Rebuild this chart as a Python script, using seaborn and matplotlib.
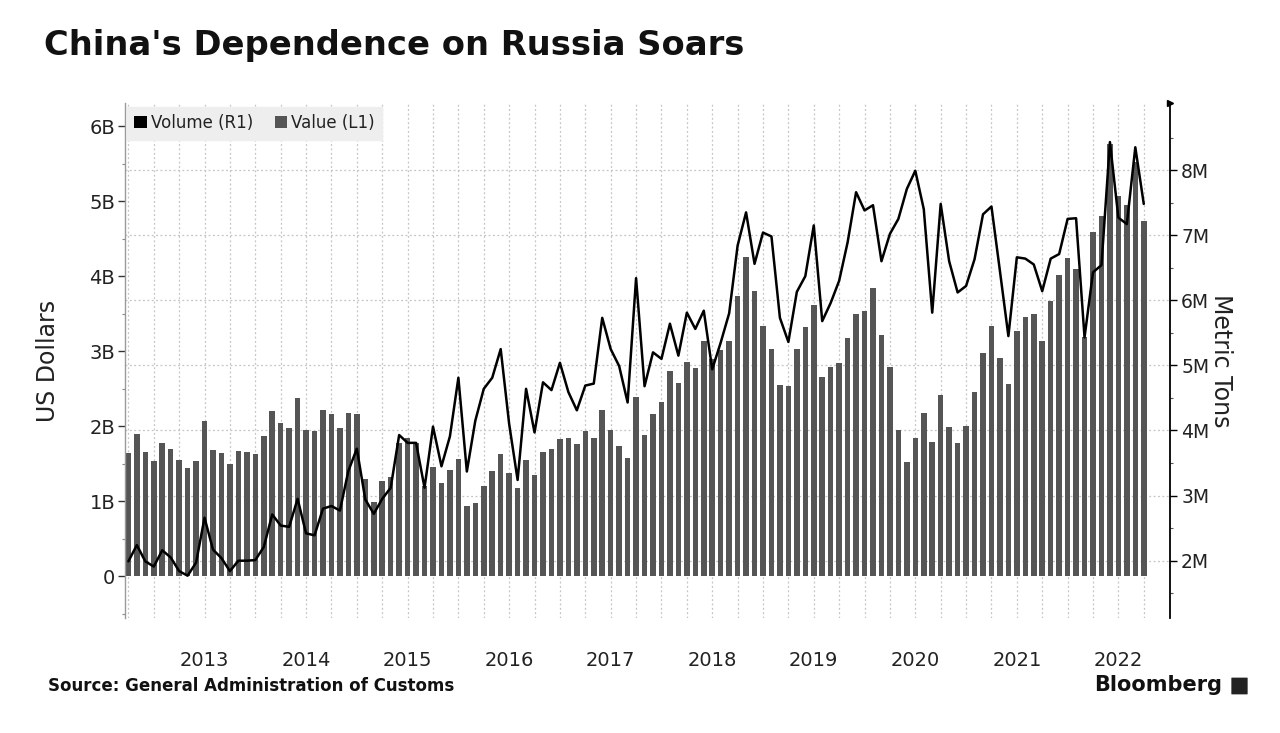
import numpy as np
import pandas as pd
import matplotlib
matplotlib.use("Agg")
import matplotlib.pyplot as plt
import seaborn as sns
from matplotlib.patches import Patch, FancyBboxPatch

# ---- data (monthly, Apr 2012 .. Apr 2022) ----
start_month = "2012-04-01"
value_bn = [
    1.64, 1.90, 1.66, 1.54, 1.77, 1.70, 1.55, 1.44, 1.53, 2.07, 1.68, 1.64, 1.50, 1.67, 1.65,
    1.63, 1.87, 2.20, 2.04, 1.98, 2.37, 1.95, 1.93, 2.21, 2.16, 1.98, 2.18, 2.16, 1.30, 0.99,
    1.27,
    1.32, 1.77, 1.84, 1.78, 1.20, 1.46, 1.24, 1.41, 1.56, 0.94, 0.98, 1.20, 1.40, 1.63, 1.38,
    1.17, 1.55, 1.35, 1.66, 1.69, 1.83, 1.84, 1.76, 1.94, 1.84, 2.21, 1.95, 1.74, 1.57, 2.39,
    1.88, 2.16, 2.32, 2.74, 2.57, 2.86, 2.78, 3.14, 2.90, 3.02, 3.13, 3.74, 4.25, 3.80, 3.34,
    3.03, 2.55, 2.53, 3.03, 3.32, 3.61, 2.66, 2.79, 2.84, 3.18, 3.50, 3.54, 3.84, 3.22, 2.79,
    1.95, 1.52, 1.84, 2.17, 1.79, 2.41, 1.99, 1.78, 2.00, 2.45, 2.98, 3.34, 2.91, 2.56, 3.27, 3.46,
    3.49, 3.14, 3.67, 4.01, 4.24, 4.09, 3.19, 4.59, 4.80, 5.76, 5.07, 4.95, 5.52, 4.74,
]
volume_mt = [
    1.99, 2.24, 1.99, 1.91, 2.16, 2.05, 1.84, 1.77, 1.97, 2.66, 2.17, 2.04, 1.84, 2.00, 2.00,
    2.01, 2.21, 2.71, 2.54, 2.52, 2.95, 2.42, 2.39, 2.80, 2.84, 2.77, 3.38, 3.72, 2.94, 2.72, 2.95,
    3.12, 3.93, 3.81, 3.81, 3.12, 4.06, 3.45, 3.91, 4.81, 3.37, 4.15, 4.64, 4.81, 5.25, 4.10,
    3.24, 4.64, 3.97, 4.74, 4.62, 5.04, 4.59, 4.31, 4.69, 4.72, 5.73, 5.25, 4.99, 4.43, 6.34,
    4.68, 5.20, 5.10, 5.64, 5.15, 5.81, 5.56, 5.84, 4.94, 5.35, 5.80, 6.84, 7.35, 6.56, 7.04,
    6.98, 5.73, 5.36, 6.13, 6.37, 7.15, 5.68, 5.96, 6.30, 6.89, 7.66, 7.38, 7.46, 6.60, 7.02,
    7.25, 7.71, 7.99, 7.40, 5.81, 7.48, 6.60, 6.12, 6.22, 6.63, 7.32, 7.44, 6.45, 5.45, 6.66, 6.64,
    6.55, 6.14, 6.64, 6.71, 7.25, 7.26, 5.43, 6.43, 6.54, 8.43, 7.27, 7.17, 8.35, 7.48,
]
left_ticks = [0, 1, 2, 3, 4, 5, 6]
left_labels = ["0", "1B", "2B", "3B", "4B", "5B", "6B"]
right_ticks = [2, 3, 4, 5, 6, 7, 8]
right_labels = ["2M", "3M", "4M", "5M", "6M", "7M", "8M"]
legend_labels = ["Volume (R1)", "Value (L1)"]

n = len(value_bn)
months = pd.date_range(start_month, periods=n, freq="MS")
pos = np.arange(n)
df = pd.DataFrame({"pos": pos, "value": value_bn, "volume": volume_mt})
jan_pos = pos[months.month == 1]
jan_labels = [str(y) for y in months.year[months.month == 1]]

sns.set_theme(style="white")
plt.rcParams["font.family"] = ["DejaVu Sans"]

BAR = "#555555"
TXT = "#222222"
fig = plt.figure(figsize=(12.8, 7.33), dpi=100)
fig.patch.set_facecolor("white")

W, H = 1280, 733
rect = [125 / W, 1 - 618 / H, 1045 / W, 515 / H]
XLIM = (-0.4, 123.1)
LYLIM = (-0.56, 6.31)
RYLIM = (1.12, 9.03)

# background grid axis (right-axis scale)
ax_bg = fig.add_axes(rect, zorder=0)
ax_bg.set_xlim(*XLIM)
ax_bg.set_ylim(*RYLIM)
ax_bg.set_yticks(right_ticks)
ax_bg.set_xticks(pos[::3])
ax_bg.grid(True, ls=(0, (1.5, 2.0)), color="#c4c4c4", lw=0.9)
ax_bg.tick_params(length=0, labelleft=False, labelbottom=False)
for s in ax_bg.spines.values():
    s.set_visible(False)
ax_bg.set_facecolor("white")

# bars (left axis)
ax = fig.add_axes(rect, zorder=1)
ax.patch.set_visible(False)
sns.barplot(data=df, x="pos", y="value", native_scale=True, color=BAR,
            saturation=1, width=0.65, linewidth=0, ax=ax)
ax.set_xlim(*XLIM)
ax.set_ylim(*LYLIM)

# line (right axis)
ax2 = ax.twinx()
ax2.set_zorder(2)
ax2.patch.set_visible(False)
sns.lineplot(data=df, x="pos", y="volume", color="black", lw=1.8, ax=ax2)
ax2.set_ylim(*RYLIM)
ax.set_xlim(*XLIM)

# spines
for k in ["top", "right", "bottom"]:
    ax.spines[k].set_visible(False)
ax.spines["left"].set_color("#9a9a9a")
ax.spines["left"].set_linewidth(1.0)
for k in ["top", "left", "bottom"]:
    ax2.spines[k].set_visible(False)
ax2.spines["right"].set_color("black")
ax2.spines["right"].set_linewidth(1.3)
ax2.plot([1], [1], marker=">", ms=5, color="black", transform=ax2.transAxes, clip_on=False)

# ticks
ax.set_yticks(left_ticks, labels=left_labels)
ax.set_yticks(np.arange(-0.5, 6.01, 0.5), minor=True)
ax.tick_params(axis="y", which="major", direction="out", length=5, width=1, color="#333333",
               labelsize=14, labelcolor=TXT, pad=2, left=True)
ax.tick_params(axis="y", which="minor", direction="out", length=2.5, width=0.8, color="#888888", left=True)

ax2.set_yticks(right_ticks, labels=right_labels)
ax2.set_yticks(np.arange(1.5, 9.0, 0.5), minor=True)
ax2.tick_params(axis="y", which="major", direction="out", length=5, width=1, color="black",
                labelsize=13.5, labelcolor=TXT, pad=3, right=True)
ax2.tick_params(axis="y", which="minor", direction="out", length=2.5, width=0.8, color="#555555", right=True)

ax.set_xticks(jan_pos, labels=jan_labels)
ax.tick_params(axis="x", length=0, labelsize=14, labelcolor=TXT, pad=24)
ax2.tick_params(axis="x", length=0, labelbottom=False)

ax.set_xlabel("")
ax2.set_xlabel("")
ax.set_ylabel("US Dollars", fontsize=17, color=TXT)
ax.yaxis.set_label_coords((60 - 125) / 1045, 0.5)
ax2.set_ylabel("Metric Tons", fontsize=17, color=TXT, rotation=270, va="center")
ax2.yaxis.set_label_coords((1221 - 125) / 1045, 0.5)

# legend
handles = [Patch(facecolor="black", edgecolor="none"), Patch(facecolor=BAR, edgecolor="none")]
leg = ax2.legend(handles, legend_labels, loc="upper left", bbox_to_anchor=(0.0015, 0.993),
                 ncol=2, frameon=True, fancybox=False, framealpha=1, facecolor="#eeeeee",
                 edgecolor="#eeeeee", fontsize=12, handlelength=0.75, handleheight=0.75,
                 handletextpad=0.25, columnspacing=1.3, borderpad=0.45, borderaxespad=0)
for t in leg.get_texts():
    t.set_color(TXT)

# texts
fig.text(44 / W, 1 - 45 / H, "China's Dependence on Russia Soars", fontsize=24.3,
         fontweight="bold", color="#111111", va="center", ha="left")
fig.text(48 / W, 1 - 686 / H, "Source: General Administration of Customs", fontsize=12,
         fontweight="bold", color="#111111", va="center", ha="left")
fig.text(1222 / W, 1 - 685 / H, "Bloomberg", fontsize=15, fontweight="bold",
         color="#111111", va="center", ha="right")
fig.patches.append(FancyBboxPatch((1232 / W, 1 - 694 / H), 15 / W, 16 / H,
                                  boxstyle="round,pad=0.0005", transform=fig.transFigure,
                                  facecolor="#222222", edgecolor="none"))

fig.savefig("out.png", dpi=100, facecolor="white")
